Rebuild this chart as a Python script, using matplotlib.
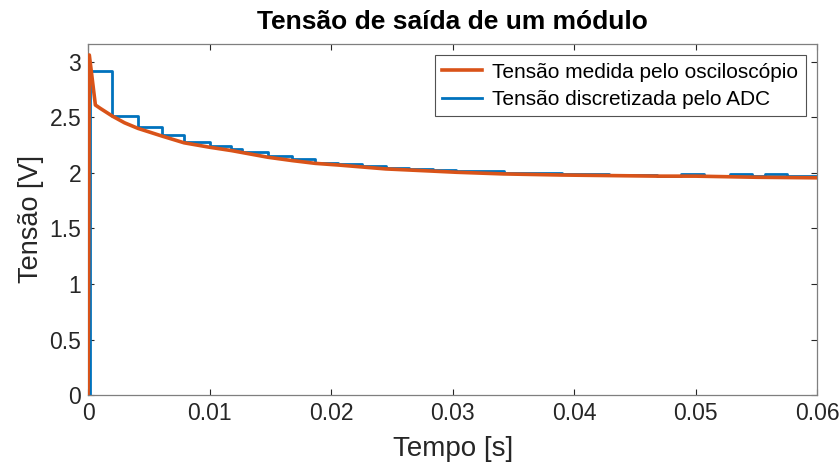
import matplotlib
matplotlib.use("Agg")
import matplotlib.pyplot as plt

# oscilloscope trace of the module output (V vs s)
osc_t = [0, 0.0001, 0.0006, 0.001, 0.002, 0.003, 0.0041, 0.0061, 0.0079,
         0.0100, 0.0118, 0.0148, 0.0168, 0.0187, 0.0206, 0.0245, 0.0284,
         0.0303, 0.0342, 0.039, 0.043, 0.047, 0.050, 0.055, 0.060]
osc_v = [0, 3.06, 2.61, 2.58, 2.51, 2.45, 2.40, 2.33, 2.27,
         2.23, 2.20, 2.14, 2.11, 2.085, 2.07, 2.035, 2.015,
         2.005, 1.99, 1.98, 1.975, 1.97, 1.97, 1.96, 1.955]

# ADC samples, held until the next conversion
adc_t = [0, 0.00012, 0.0020, 0.0041, 0.0061, 0.0079, 0.0100, 0.0118, 0.0127,
         0.0148, 0.0168, 0.0187, 0.0206, 0.0225, 0.0245, 0.0264, 0.0284,
         0.0303, 0.0342, 0.0390, 0.0429, 0.0468, 0.0488, 0.0507, 0.0528,
         0.0546, 0.0557, 0.0575, 0.0600]
adc_v = [0, 2.92, 2.51, 2.41, 2.34, 2.28, 2.24, 2.21, 2.19,
         2.15, 2.12, 2.09, 2.08, 2.06, 2.04, 2.03, 2.025,
         2.02, 2.00, 1.99, 1.98, 1.97, 1.985, 1.97, 1.985,
         1.97, 1.985, 1.97, 1.97]

xticks = [0, 0.01, 0.02, 0.03, 0.04, 0.05, 0.06]
yticks = [0, 0.5, 1, 1.5, 2, 2.5, 3]

ORANGE = "#D95319"
BLUE = "#0072BD"
AX_GRAY = "#262626"

plt.rcParams["font.family"] = ["Liberation Sans", "DejaVu Sans"]

fig = plt.figure(figsize=(8.39, 4.67), dpi=100)
ax = fig.add_axes([0.105, 0.154, 0.869, 0.752])

ax.plot(adc_t, adc_v, color=BLUE, linewidth=2.0, drawstyle="steps-post",
        label="Tensão discretizada pelo ADC", zorder=2)
ax.plot(osc_t, osc_v, color=ORANGE, linewidth=2.6, solid_joinstyle="round",
        label="Tensão medida pelo osciloscópio", zorder=3)

ax.set_xlim(0, 0.06)
ax.set_ylim(0, 3.16)
ax.set_xticks(xticks)
ax.set_xticklabels(["0", "0.01", "0.02", "0.03", "0.04", "0.05", "0.06"])
ax.set_yticks(yticks)
ax.set_yticklabels(["0", "0.5", "1", "1.5", "2", "2.5", "3"])

ax.tick_params(direction="in", top=True, right=True, length=4, width=0.8,
               labelsize=16.5, colors=AX_GRAY, pad=5)
for s in ax.spines.values():
    s.set_color("#7f7f7f")
    s.set_linewidth(0.9)

ax.set_xlabel("Tempo [s]", fontsize=20, color=AX_GRAY, labelpad=8)
ax.set_ylabel("Tensão [V]", fontsize=19.5, color=AX_GRAY, labelpad=4)
ax.set_title("Tensão de saída de um módulo", fontsize=19, fontweight="bold",
             color="black", pad=11)

handles, labels = ax.get_legend_handles_labels()
leg = ax.legend(handles[::-1], labels[::-1], loc="upper right", fontsize=15,
                frameon=True, fancybox=False, borderpad=0.35, handlelength=1.9,
                handletextpad=0.5, labelspacing=0.4, borderaxespad=0.55)
leg.get_frame().set_edgecolor(AX_GRAY)
leg.get_frame().set_linewidth(0.8)

fig.savefig("out.png", dpi=100)
